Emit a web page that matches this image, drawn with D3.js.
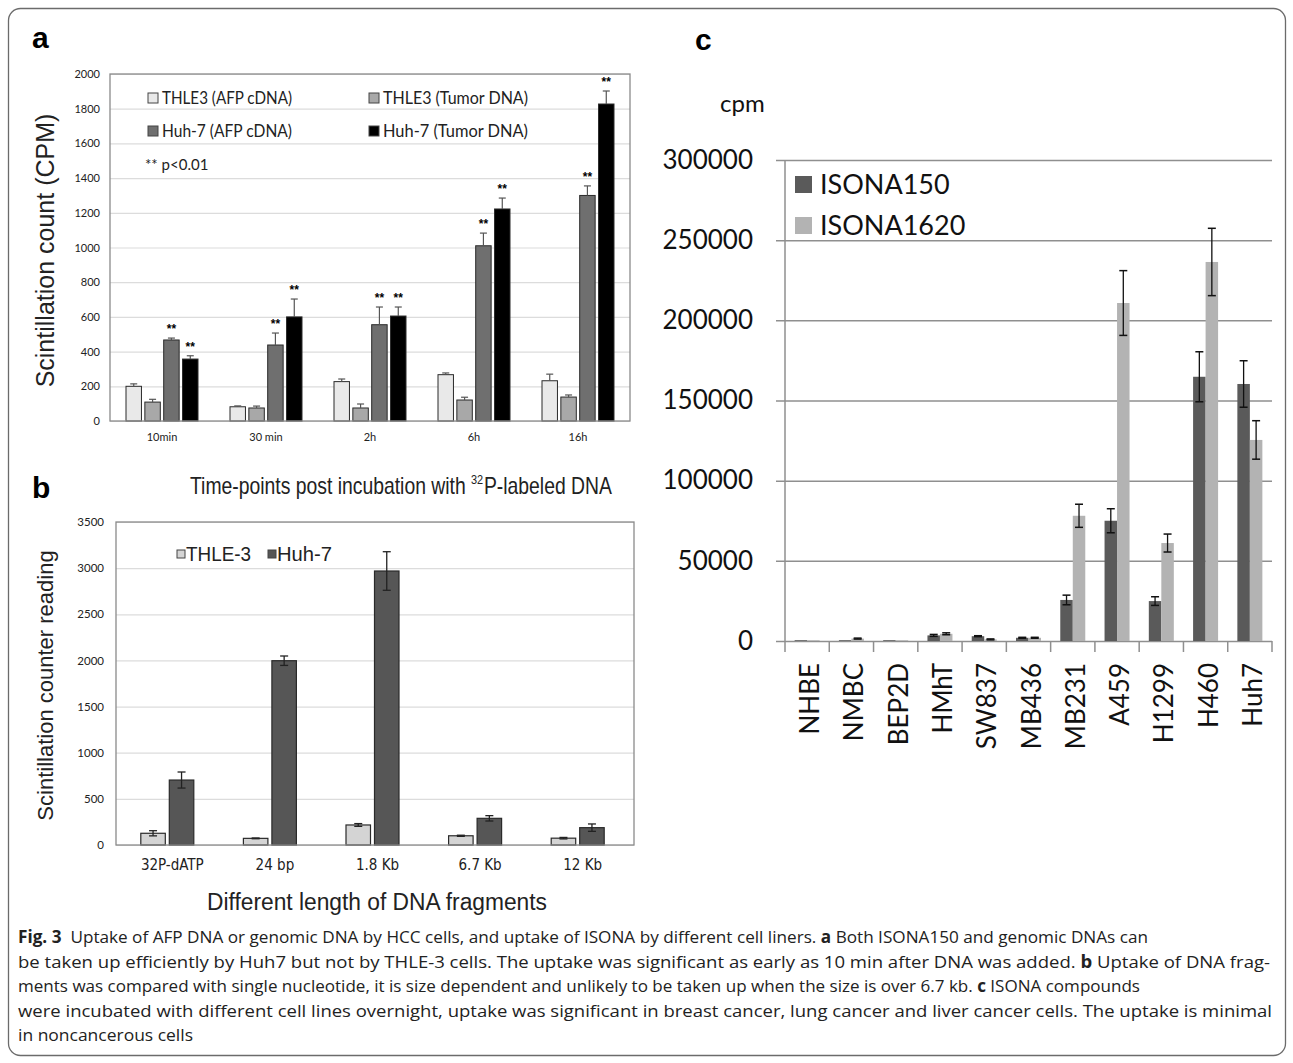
<!DOCTYPE html>
<html>
<head>
<meta charset="utf-8">
<script src="https://cdn.jsdelivr.net/npm/d3@7"></script>
<style>
  body { margin: 0; background: #fff; }
  svg { display: block; }
</style>
</head>
<body>
<div id="fig"></div>
<script>
// panel a data
const timeLabels = ["10min", "30 min", "2h", "6h", "16h"];
const seriesA = ["THLE3 (AFP cDNA)", "THLE3 (Tumor DNA)", "Huh-7 (AFP cDNA)", "Huh-7 (Tumor DNA)"];
const thle3Afp = [200, 82, 227, 267, 232];
const thle3AfpErr = [14, 5, 15, 10, 38];
const thle3Tumor = [109, 75, 75, 121, 138];
const thle3TumorErr = [16, 11, 23, 16, 12];
const huh7Afp = [467, 438, 555, 1010, 1300];
const huh7AfpErr = [11, 69, 102, 73, 55];
const huh7Tumor = [357, 600, 605, 1222, 1827];
const huh7TumorErr = [19, 103, 52, 63, 75];
const ticksA = [0, 200, 400, 600, 800, 1000, 1200, 1400, 1600, 1800, 2000];

// panel b data
const fragLabels = ["32P-dATP", "24 bp", "1.8 Kb", "6.7 Kb", "12 Kb"];
const seriesB = ["THLE-3", "Huh-7"];
const thle3Frag = [127, 72, 217, 100, 74];
const thle3FragErr = [28, 4, 15, 6, 8];
const huh7Frag = [704, 1997, 2969, 289, 188];
const huh7FragErr = [87, 51, 209, 29, 40];
const ticksB = [0, 500, 1000, 1500, 2000, 2500, 3000, 3500];

// panel c data
const cellLines = ["NHBE", "NMBC", "BEP2D", "HMhT", "SW837", "MB436", "MB231", "A459", "H1299", "H460", "Huh7"];
const seriesC = ["ISONA150", "ISONA1620"];
const isona150 = [500, 500, 500, 3500, 3000, 2000, 25600, 75000, 24900, 164800, 160300];
const isona150Err = [0, 0, 0, 600, 300, 300, 3000, 7500, 2700, 15600, 14500];
const isona1620 = [500, 1500, 500, 4500, 1000, 2000, 78100, 210800, 61100, 236400, 125400];
const isona1620Err = [0, 300, 0, 600, 300, 300, 7200, 20200, 5600, 21000, 12000];
const ticksC = [0, 50000, 100000, 150000, 200000, 250000, 300000];

const W = 1293, H = 1063;
const ARIAL = "'Liberation Sans', Arial, sans-serif";
const NARROW = "'DejaVu Sans Condensed', 'Arial Narrow', sans-serif";
const CALIBRI = "Lato, 'Open Sans', sans-serif";
const MYRIAD = "'Open Sans', 'Noto Sans', sans-serif";
const fmt = d3.format("d");

const svg = d3.select("#fig").append("svg")
  .attr("width", W).attr("height", H);

svg.append("rect").attr("width", W).attr("height", H).attr("fill", "#fff");

// outer frame
svg.append("rect")
  .attr("x", 8.5).attr("y", 8.5).attr("width", 1277).attr("height", 1047)
  .attr("rx", 12).attr("fill", "none").attr("stroke", "#6b6b6b").attr("stroke-width", 1.3);

// panel letters
svg.append("text").attr("x", 32).attr("y", 48).text("a")
  .style("font-family", ARIAL).style("font-weight", "bold").style("font-size", "30px");
svg.append("text").attr("x", 32).attr("y", 498).text("b")
  .style("font-family", ARIAL).style("font-weight", "bold").style("font-size", "30px");
svg.append("text").attr("x", 695).attr("y", 50).text("c")
  .style("font-family", ARIAL).style("font-weight", "bold").style("font-size", "30px");

// error bar helper
function errBar(g, x, yTop, yBot, cap, color, width) {
  g.append("line").attr("x1", x).attr("x2", x).attr("y1", yTop).attr("y2", yBot)
    .attr("stroke", color).attr("stroke-width", width);
  g.append("line").attr("x1", x - cap / 2).attr("x2", x + cap / 2).attr("y1", yTop).attr("y2", yTop)
    .attr("stroke", color).attr("stroke-width", width);
}

// ---------- panel a ----------
{
  const pa = {left: 110, right: 630, top: 74, bottom: 421};
  const g = svg.append("g");
  const x = d3.scaleBand().domain(timeLabels).range([pa.left, pa.right]);
  const sub = d3.scaleBand().domain(d3.range(4)).range([0, 72]).paddingInner(0.18);
  const y = d3.scaleLinear().domain([0, 2000]).range([pa.bottom, pa.top]);

  // gridlines
  g.append("g").attr("transform", `translate(${pa.left},0)`)
    .call(d3.axisLeft(y).tickValues(ticksA).tickSize(-(pa.right - pa.left)).tickFormat(""))
    .call(s => s.select(".domain").remove())
    .call(s => s.selectAll("line").attr("stroke", "#dcdcdc").attr("stroke-width", 1.2));

  // tick labels
  g.append("g").attr("transform", `translate(${pa.left},0)`)
    .call(d3.axisLeft(y).tickValues(ticksA).tickSize(0).tickPadding(10).tickFormat(fmt))
    .call(s => s.select(".domain").remove())
    .call(s => s.selectAll("text").style("font-family", CALIBRI).style("font-size", "11px").attr("fill", "#222"));

  g.append("g").attr("transform", `translate(0,${pa.bottom})`)
    .call(d3.axisBottom(x).tickSize(0).tickPadding(12))
    .call(s => s.select(".domain").remove())
    .call(s => s.selectAll("text").style("font-family", CALIBRI).style("font-size", "11px").attr("fill", "#222"));

  const vals = [thle3Afp, thle3Tumor, huh7Afp, huh7Tumor];
  const errs = [thle3AfpErr, thle3TumorErr, huh7AfpErr, huh7TumorErr];
  const fills = ["#e9e9e9", "#a8a8a8", "#6f6f6f", "#000000"];

  vals.forEach((v, s) => {
    const bx = i => x(timeLabels[i]) + (x.bandwidth() - 72) / 2 + sub(s);
    g.selectAll(null).data(v).enter().append("rect")
      .attr("x", (d, i) => bx(i))
      .attr("y", d => y(d))
      .attr("width", sub.bandwidth())
      .attr("height", d => pa.bottom - y(d))
      .attr("fill", fills[s]).attr("stroke", "#2a2a2a").attr("stroke-width", 1);
    v.forEach((d, i) => {
      const cx = bx(i) + sub.bandwidth() / 2;
      errBar(g, cx, y(d + errs[s][i]), y(d), 7, "#555", 1.2);
      if (s >= 2) {
        g.append("text").attr("x", cx).attr("y", y(d + errs[s][i]) - 5)
          .attr("text-anchor", "middle").text("**")
          .style("font-family", ARIAL).style("font-size", "12px").style("font-weight", "bold");
      }
    });
  });

  // plot frame
  g.append("rect").attr("x", pa.left).attr("y", pa.top)
    .attr("width", pa.right - pa.left).attr("height", pa.bottom - pa.top)
    .attr("fill", "none").attr("stroke", "#8a8a8a").attr("stroke-width", 1.3);

  // legend
  const legPos = [[148, 98], [369, 98], [148, 131], [369, 131]];
  seriesA.forEach((name, s) => {
    const [lx, ly] = legPos[s];
    g.append("rect").attr("x", lx).attr("y", ly - 5).attr("width", 10).attr("height", 10)
      .attr("fill", fills[s]).attr("stroke", "#444").attr("stroke-width", 1);
    g.append("text").attr("x", lx + 14).attr("y", ly + 6).text(name)
      .attr("textLength", s % 2 === 0 ? 130 : 145).attr("lengthAdjust", "spacingAndGlyphs")
      .style("font-family", CALIBRI).style("font-size", "18px").attr("fill", "#222");
  });
  g.append("text").attr("x", 145).attr("y", 170).text("** p<0.01")
    .style("font-family", CALIBRI).style("font-size", "15px").attr("fill", "#222");

  svg.append("text")
    .attr("transform", `translate(54,${(pa.top + pa.bottom) / 2 + 3}) rotate(-90)`)
    .attr("text-anchor", "middle").text("Scintillation count (CPM)")
    .style("font-family", ARIAL).style("font-size", "25px").attr("fill", "#222");
}

// ---------- panel b ----------
{
  const pb = {left: 116, right: 634, top: 522, bottom: 845};
  const g = svg.append("g");
  const x = d3.scaleBand().domain(fragLabels).range([pb.left + 5, pb.right]);
  const y = d3.scaleLinear().domain([0, 3500]).range([pb.bottom, pb.top]);
  const bw = 24.5, gap = 4;

  g.append("g").attr("transform", `translate(${pb.left},0)`)
    .call(d3.axisLeft(y).tickValues(ticksB).tickSize(-(pb.right - pb.left)).tickFormat(""))
    .call(s => s.select(".domain").remove())
    .call(s => s.selectAll("line").attr("stroke", "#dcdcdc").attr("stroke-width", 1.2));

  g.append("g").attr("transform", `translate(${pb.left},0)`)
    .call(d3.axisLeft(y).tickValues(ticksB).tickSize(0).tickPadding(12).tickFormat(fmt))
    .call(s => s.select(".domain").remove())
    .call(s => s.selectAll("text").style("font-family", CALIBRI).style("font-size", "11.5px").attr("fill", "#222"));

  g.append("g").attr("transform", `translate(0,${pb.bottom})`)
    .call(d3.axisBottom(x).tickSize(0).tickPadding(14))
    .call(s => s.select(".domain").remove())
    .call(s => s.selectAll("text").style("font-family", NARROW).style("font-size", "15px").attr("fill", "#222"));

  const vals = [thle3Frag, huh7Frag];
  const errs = [thle3FragErr, huh7FragErr];
  const fills = ["#d4d4d4", "#565656"];
  vals.forEach((v, s) => {
    const bx = i => x(fragLabels[i]) + x.bandwidth() / 2 - bw - gap / 2 + s * (bw + gap) - 5;
    g.selectAll(null).data(v).enter().append("rect")
      .attr("x", (d, i) => bx(i))
      .attr("y", d => y(d))
      .attr("width", bw)
      .attr("height", d => pb.bottom - y(d))
      .attr("fill", fills[s]).attr("stroke", "#2a2a2a").attr("stroke-width", 1.2);
    v.forEach((d, i) => {
      const cx = bx(i) + bw / 2;
      const e = errs[s][i];
      errBar(g, cx, y(d + e), y(d - e), 8, "#222", 1.3);
      g.append("line").attr("x1", cx - 4).attr("x2", cx + 4).attr("y1", y(d - e)).attr("y2", y(d - e))
        .attr("stroke", "#222").attr("stroke-width", 1.3);
    });
  });

  g.append("rect").attr("x", pb.left).attr("y", pb.top)
    .attr("width", pb.right - pb.left).attr("height", pb.bottom - pb.top)
    .attr("fill", "none").attr("stroke", "#8a8a8a").attr("stroke-width", 1.3);

  // legend
  const legPos = [[177, 554, 65], [268, 554, 55]];
  seriesB.forEach((name, s) => {
    const [lx, ly, tl] = legPos[s];
    g.append("rect").attr("x", lx).attr("y", ly - 4).attr("width", 8).attr("height", 8)
      .attr("fill", fills[s]).attr("stroke", "#444").attr("stroke-width", 1);
    g.append("text").attr("x", lx + 9).attr("y", ly + 7).text(name)
      .attr("textLength", tl).attr("lengthAdjust", "spacingAndGlyphs")
      .style("font-family", ARIAL).style("font-size", "21px").attr("fill", "#222");
  });

  // title above panel b (x title of panel a): laid out at natural size, then squeezed to width
  const tg = svg.append("g");
  const part = (txt, size, dx, dy) => tg.append("text").attr("x", dx).attr("y", dy).text(txt)
    .style("font-family", ARIAL).style("font-size", size + "px").attr("fill", "#222");
  const t1 = part("Time-points post incubation with", 23, 0, 0);
  const x2 = t1.node().getComputedTextLength() + 6;
  const t2 = part("32", 13, x2, -10);
  const x3 = x2 + t2.node().getComputedTextLength() + 1;
  const t3 = part("P-labeled DNA", 23, x3, 0);
  const total = x3 + t3.node().getComputedTextLength();
  tg.attr("transform", `translate(190,494) scale(${422 / total},1)`);

  svg.append("text").attr("x", 207).attr("y", 910)
    .attr("textLength", 340).attr("lengthAdjust", "spacingAndGlyphs")
    .text("Different length of DNA fragments")
    .style("font-family", ARIAL).style("font-size", "23px").attr("fill", "#222");

  svg.append("text")
    .attr("transform", `translate(53,${(pb.top + pb.bottom) / 2 + 2}) rotate(-90)`)
    .attr("text-anchor", "middle").text("Scintillation counter reading")
    .style("font-family", ARIAL).style("font-size", "22px").attr("fill", "#222");
}

// ---------- panel c ----------
{
  const pc = {left: 785, right: 1272, top: 160, bottom: 641};
  const g = svg.append("g");
  const x = d3.scaleBand().domain(cellLines).range([pc.left, pc.right]);
  const y = d3.scaleLinear().domain([0, 300000]).range([pc.bottom, pc.top]);
  const bw = 12.5;

  g.append("g").attr("transform", `translate(${pc.right},0)`)
    .call(d3.axisLeft(y).tickValues(ticksC).tickSize(pc.right - pc.left + 9).tickFormat(""))
    .call(s => s.select(".domain").remove())
    .call(s => s.selectAll("line").attr("stroke", "#8f8f8f").attr("stroke-width", 1.5));

  g.append("g").attr("transform", `translate(${pc.left},0)`)
    .call(d3.axisLeft(y).tickValues(ticksC).tickSize(0).tickPadding(32).tickFormat(fmt))
    .call(s => s.select(".domain").remove())
    .call(s => s.selectAll("text").style("font-family", CALIBRI).style("font-size", "26px").attr("fill", "#111"));

  // y axis line
  g.append("line").attr("x1", pc.left).attr("x2", pc.left).attr("y1", pc.top).attr("y2", pc.bottom)
    .attr("stroke", "#8f8f8f").attr("stroke-width", 1.5);

  // category boundary ticks
  const bounds = cellLines.map(c => x(c)).concat([pc.right]);
  g.selectAll(null).data(bounds).enter().append("line")
    .attr("x1", d => d).attr("x2", d => d).attr("y1", pc.bottom).attr("y2", pc.bottom + 11)
    .attr("stroke", "#8f8f8f").attr("stroke-width", 1.5);

  const vals = [isona150, isona1620];
  const errs = [isona150Err, isona1620Err];
  const fills = ["#5a5a5a", "#b3b3b3"];
  vals.forEach((v, s) => {
    const bx = i => x(cellLines[i]) + x.bandwidth() / 2 - bw + s * bw;
    g.selectAll(null).data(v).enter().append("rect")
      .attr("x", (d, i) => bx(i))
      .attr("y", d => y(d))
      .attr("width", bw)
      .attr("height", d => pc.bottom - y(d))
      .attr("fill", fills[s]);
    v.forEach((d, i) => {
      const e = errs[s][i];
      if (e <= 0) return;
      const cx = bx(i) + bw / 2;
      g.append("line").attr("x1", cx).attr("x2", cx).attr("y1", y(d + e)).attr("y2", y(d - e))
        .attr("stroke", "#111").attr("stroke-width", 1.3);
      [d + e, d - e].forEach(vv => {
        g.append("line").attr("x1", cx - 4).attr("x2", cx + 4).attr("y1", y(vv)).attr("y2", y(vv))
          .attr("stroke", "#111").attr("stroke-width", 1.5);
      });
    });
  });

  // category labels
  cellLines.forEach(c => {
    g.append("text")
      .attr("transform", `translate(${x(c) + x.bandwidth() / 2 + 12},663) rotate(-90)`)
      .attr("text-anchor", "end").text(c)
      .style("font-family", CALIBRI).style("font-size", "26px").attr("fill", "#111");
  });

  // legend
  const legY = [184, 225];
  seriesC.forEach((name, s) => {
    g.append("rect").attr("x", 795).attr("y", legY[s] - 8).attr("width", 17).attr("height", 17)
      .attr("fill", fills[s]);
    g.append("text").attr("x", 820).attr("y", legY[s] + 10).text(name)
      .style("font-family", CALIBRI).style("font-size", "27px").attr("fill", "#111");
  });

  g.append("text").attr("x", 720).attr("y", 112).text("cpm")
    .style("font-family", CALIBRI).style("font-size", "24px").attr("fill", "#111");
}

// ---------- caption ----------
const captionLines = [
  [["Fig. 3", true], ["  Uptake of AFP DNA or genomic DNA by HCC cells, and uptake of ISONA by different cell liners. ", false], ["a", true], [" Both ISONA150 and genomic DNAs can", false]],
  [["be taken up efficiently by Huh7 but not by THLE-3 cells. The uptake was significant as early as 10 min after DNA was added. ", false], ["b", true], [" Uptake of DNA frag-", false]],
  [["ments was compared with single nucleotide, it is size dependent and unlikely to be taken up when the size is over 6.7 kb. ", false], ["c", true], [" ISONA compounds", false]],
  [["were incubated with different cell lines overnight, uptake was significant in breast cancer, lung cancer and liver cancer cells. The uptake is minimal", false]],
  [["in noncancerous cells", false]]
];
const captionWidths = [1130, 1252, 1122, 1254, 175];
captionLines.forEach((parts, li) => {
  const t = svg.append("text").attr("x", 18).attr("y", 943 + li * 24.6)
    .style("font-family", MYRIAD).style("font-size", "17px").attr("fill", "#222")
    .attr("xml:space", "preserve")
    .attr("textLength", captionWidths[li]).attr("lengthAdjust", "spacingAndGlyphs");
  parts.forEach(([txt, bold]) => {
    t.append("tspan").text(txt).style("font-weight", bold ? "bold" : "normal");
  });
});
</script>
</body>
</html>
